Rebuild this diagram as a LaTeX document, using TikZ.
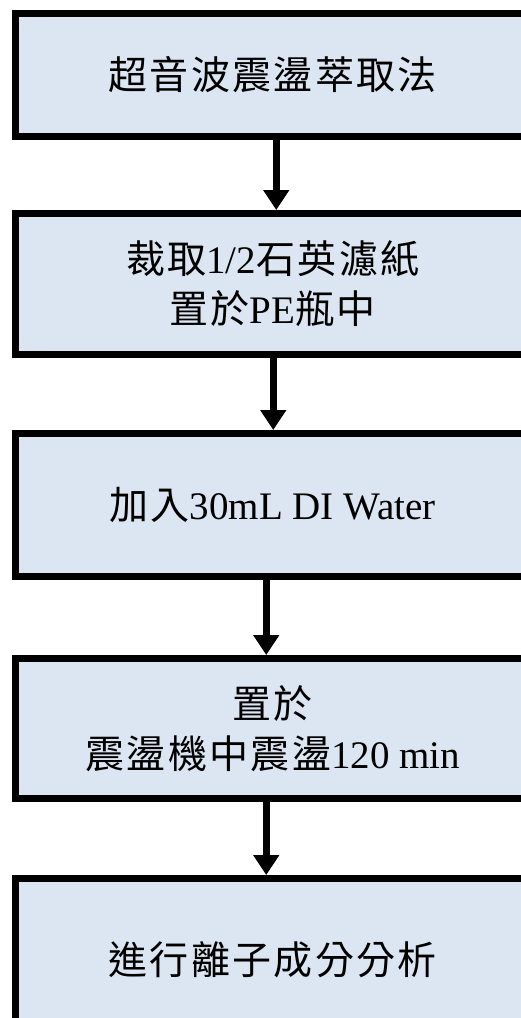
\documentclass[tikz,border=0pt]{standalone}
\usepackage{fontspec}
\setmainfont{Liberation Serif}
\newfontfamily\cjk[LetterSpace=6]{Noto Sans CJK TC}
\usetikzlibrary{arrows.meta}
\definecolor{boxfill}{HTML}{DCE6F2}
\begin{document}
\begin{tikzpicture}[x=1pt,y=1pt,
  stepbox/.style={draw=black, line width=7pt, fill=boxfill, rectangle,
    minimum width=514.5pt, align=center, inner sep=0pt,
    font=\fontsize{39}{50}\selectfont},
  arr/.style={line width=7pt, -{Triangle[width=25pt,length=20pt]}}]
\useasboundingbox (0,0) rectangle (521,-1018);
\fill[white] (0,0) rectangle (521,-1018);
\clip (0,0) rectangle (521,-1018);
\node[stepbox, minimum height=122.5pt] (b1) at (272.75,-74.75) {{\cjk 超音波震盪萃取法}};
\node[stepbox, minimum height=140.5pt] (b2) at (272.75,-283.75) {{\cjk 裁取}1/2{\cjk 石英濾紙}\\{\cjk 置於}PE{\cjk 瓶中}};
\node[stepbox, minimum height=142.5pt] (b3) at (272.75,-504.75) {{\cjk 加入}30mL DI Water};
\node[stepbox, minimum height=140pt] (b4) at (272.75,-728.5) {{\cjk 置於}\\{\cjk 震盪機中震盪}120 min};
\node[stepbox, minimum height=163pt] (b5) at (272.75,-960) {{\cjk 進行離子成分分析}};
\draw[arr] ([xshift=3.5pt]b1.south) -- ([xshift=3.5pt]b2.north);
\draw[arr] ([xshift=0.5pt]b2.south) -- ([xshift=0.5pt]b3.north);
\draw[arr] ([xshift=-6.5pt]b3.south) -- ([xshift=-6.5pt]b4.north);
\draw[arr] ([xshift=-6.5pt]b4.south) -- ([xshift=-6.5pt]b5.north);
\end{tikzpicture}
\end{document}
